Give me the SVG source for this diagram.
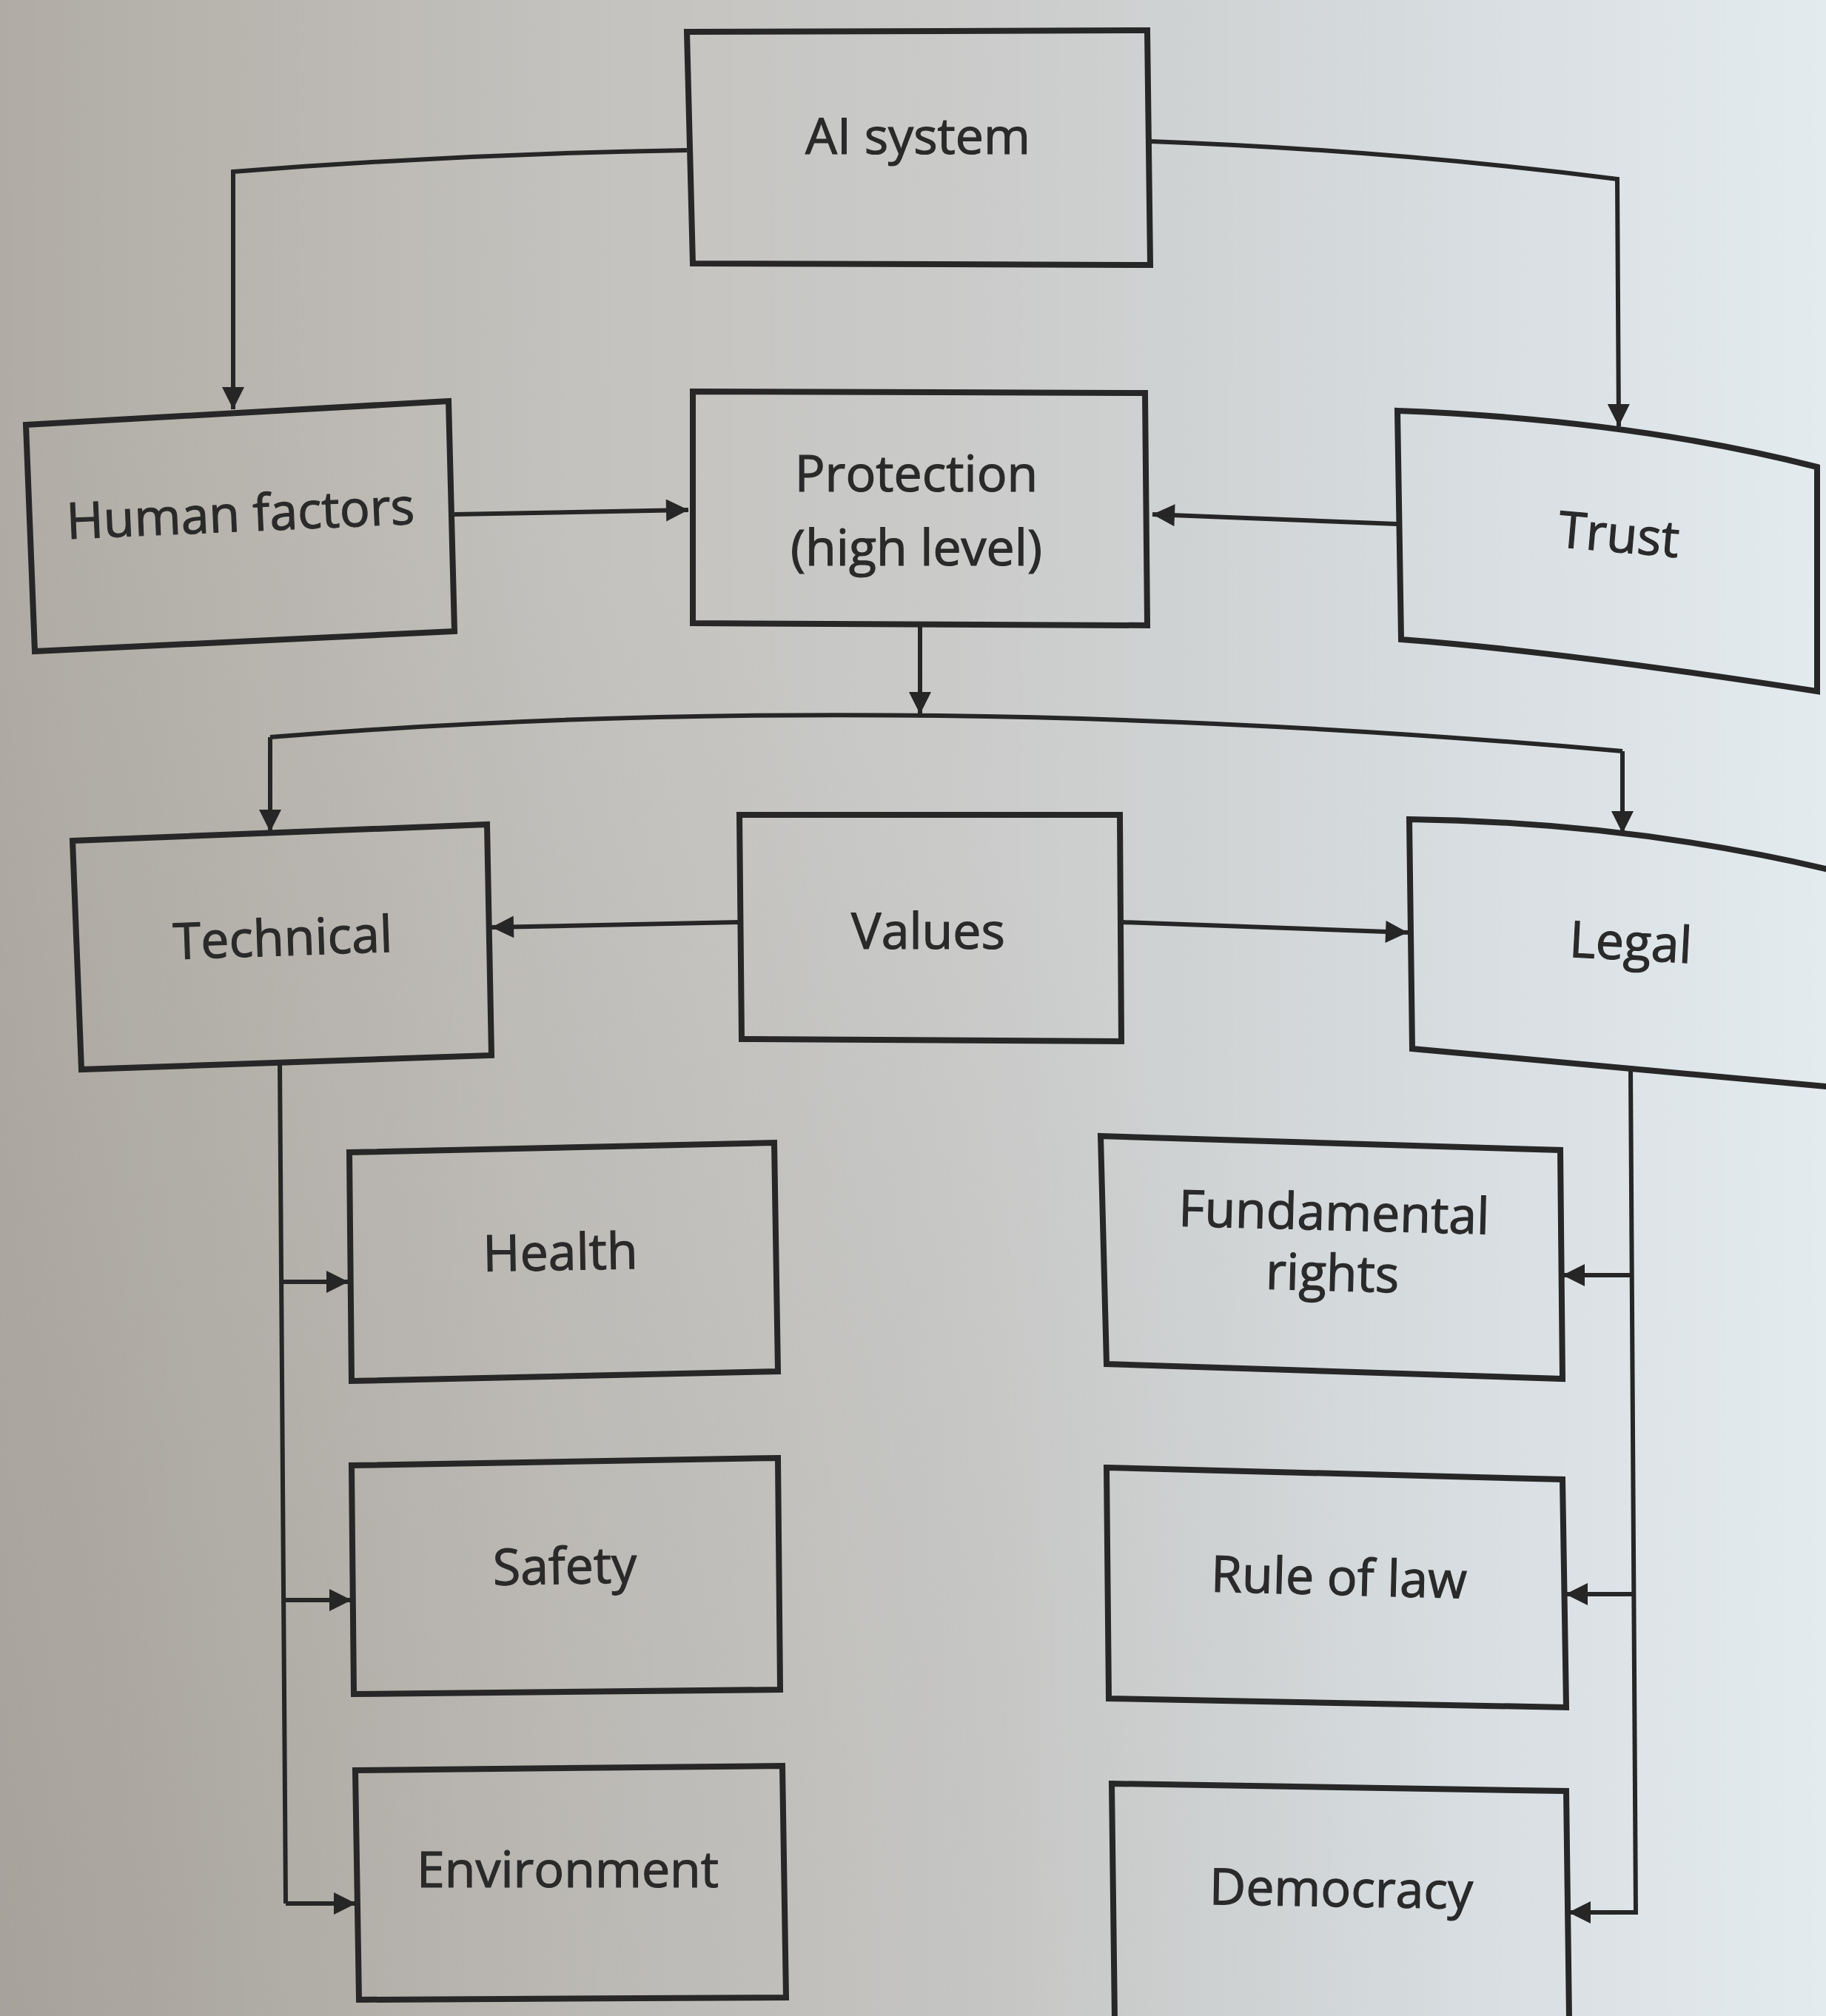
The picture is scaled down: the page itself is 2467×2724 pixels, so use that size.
<svg xmlns="http://www.w3.org/2000/svg" width="2467" height="2724" viewBox="0 0 2467 2724">
<defs>
<linearGradient id="bg" x1="0" y1="0" x2="1" y2="0">
<stop offset="0" stop-color="#b0aca5"/>
<stop offset="0.3" stop-color="#c3c1bd"/>
<stop offset="0.55" stop-color="#cbcccb"/>
<stop offset="0.8" stop-color="#d7dde0"/>
<stop offset="1" stop-color="#e4ebef"/>
</linearGradient>
<radialGradient id="shade" cx="0" cy="1" r="0.8">
<stop offset="0" stop-color="#8a847b" stop-opacity="0.25"/>
<stop offset="1" stop-color="#8a847b" stop-opacity="0"/>
</radialGradient>
<marker id="ah" viewBox="0 0 10 10" refX="10" refY="5" markerWidth="40" markerHeight="30" markerUnits="userSpaceOnUse" orient="auto">
<path d="M0,0 L10,5 L0,10 z" fill="#262626"/>
</marker>
<style>
.box{fill:none;stroke:#272727;stroke-width:8;stroke-linejoin:miter}
.lbl{font-family:"Open Sans","Noto Sans","Liberation Sans",sans-serif;font-size:68px;fill:#2a2a2a;stroke:#2a2a2a;stroke-width:1.2;text-anchor:middle}
.con{fill:none;stroke:#262626;stroke-width:6}
.arr{marker-end:url(#ah)}
</style>
</defs>
<rect x="0" y="0" width="2467" height="2724" fill="url(#bg)"/>
<rect x="0" y="0" width="2467" height="2724" fill="url(#shade)"/>

<g id="connectors">
<path class="con arr" d="M928,203 Q620,208 315,232 L315,553"/>
<path class="con arr" d="M1554,191 Q1880,203 2185,242 L2187,576"/>
<path class="con arr" d="M614,695 L930,689"/>
<path class="con arr" d="M1888,708 L1557,695"/>
<path class="con arr" d="M1243,845 L1243,965"/>
<path class="con" d="M365,996 Q1207,928 2192,1015"/>
<path class="con arr" d="M365,996 L365,1124"/>
<path class="con arr" d="M2192,1015 L2192,1126"/>
<path class="con arr" d="M999,1246 L664,1253"/>
<path class="con arr" d="M1515,1246 L1902,1260"/>
<path class="con" d="M378,1436 L386,2572"/>
<path class="con arr" d="M380,1732 L471,1732"/>
<path class="con arr" d="M383,2162 L475,2162"/>
<path class="con arr" d="M386,2572 L481,2572"/>
<path class="con" d="M2203,1442 L2210,2587"/>
<path class="con arr" d="M2205,1723 L2111,1723"/>
<path class="con arr" d="M2208,2154 L2115,2154"/>
<path class="con arr" d="M2210,2584 L2119,2584"/>
</g>

<g id="ai-system">
<polygon class="box" points="928,43 1550,41 1554,358 936,356"/>
<text class="lbl" x="1240" y="208">AI system</text>
</g>

<g id="human-factors">
<polygon class="box" points="35,574 606,542 614,853 47,880"/>
<text class="lbl" x="325" y="718" transform="rotate(-2.5 325 700)">Human factors</text>
</g>

<g id="protection">
<polygon class="box" points="936,529 1547,531 1550,845 936,842"/>
<text class="lbl" x="1238" y="664">Protection</text>
<text class="lbl" x="1238" y="764">(high level)</text>
</g>

<g id="trust">
<path class="box" d="M1888,555 Q2203,567 2455,631 L2455,934 Q2106,880 1893,864 Z"/>
<text class="lbl" x="2187" y="746" transform="rotate(5 2187 725)">Trust</text>
</g>

<g id="technical">
<polygon class="box" points="98,1136 658,1114 664,1426 110,1445"/>
<text class="lbl" x="382" y="1291" transform="rotate(-2 382 1270)">Technical</text>
</g>

<g id="values">
<polygon class="box" points="999,1101 1513,1101 1515,1407 1002,1404"/>
<text class="lbl" x="1254" y="1282">Values</text>
</g>

<g id="legal">
<path class="box" d="M1904,1107 Q2198,1111 2467,1174 L2480,1180 L2480,1470 L2467,1468 L1908,1417 Z"/>
<text class="lbl" x="2203" y="1297" transform="rotate(3 2203 1276)">Legal</text>
</g>

<g id="health">
<polygon class="box" points="472,1557 1046,1544 1051,1853 475,1866"/>
<text class="lbl" x="757" y="1716" transform="rotate(-1 755 1694)">Health</text>
</g>

<g id="safety">
<polygon class="box" points="475,1980 1051,1970 1054,2283 478,2289"/>
<text class="lbl" x="763" y="2140" transform="rotate(-1 763 2118)">Safety</text>
</g>

<g id="environment">
<polygon class="box" points="480,2392 1057,2386 1062,2699 485,2702"/>
<text class="lbl" x="767" y="2550">Environment</text>
</g>

<g id="fundamental-rights">
<polygon class="box" points="1487,1535 2108,1554 2111,1863 1495,1843"/>
<text class="lbl" x="1801" y="1662" transform="rotate(1.5 1801 1690)">Fundamental</text>
<text class="lbl" x="1801" y="1744" transform="rotate(1.5 1801 1690)">rights</text>
</g>

<g id="rule-of-law">
<polygon class="box" points="1495,1983 2111,1999 2116,2307 1498,2295"/>
<text class="lbl" x="1809" y="2155" transform="rotate(1.5 1809 2133)">Rule of law</text>
</g>

<g id="democracy">
<polygon class="box" points="1502,2410 2116,2420 2120,2730 1506,2730"/>
<text class="lbl" x="1812" y="2576" transform="rotate(1 1812 2554)">Democracy</text>
</g>
</svg>
